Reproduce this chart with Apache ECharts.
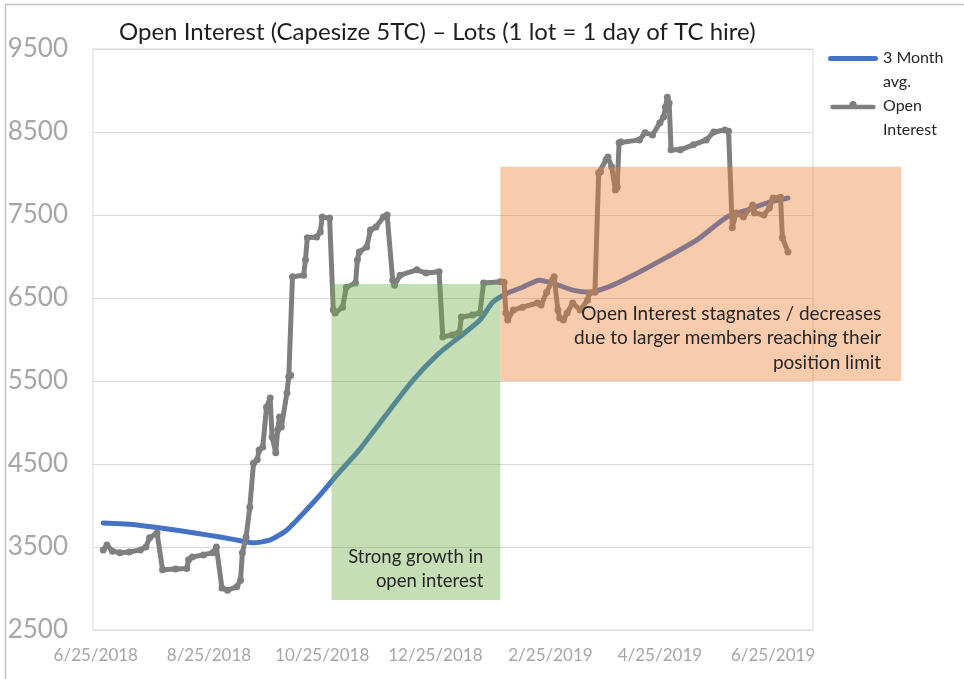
<!DOCTYPE html>
<html>
<head>
<meta charset="utf-8">
<script src="https://cdn.jsdelivr.net/npm/echarts@6/dist/echarts.min.js"></script>
<style>
html, body { margin: 0; padding: 0; background: #fff; }
#container { width: 964px; height: 679px; }
</style>
</head>
<body>
<div id="container"></div>
<script>
// 3 month average of open interest
var avgDates = ['2018-06-29', '2018-07-13', '2018-07-30', '2018-08-20', '2018-08-31', '2018-09-11',
    '2018-09-18', '2018-09-27', '2018-10-06', '2018-10-15', '2018-10-24', '2018-11-02', '2018-11-14',
    '2018-11-28', '2018-12-13', '2018-12-27', '2019-01-07', '2019-01-18', '2019-01-25', '2019-02-02',
    '2019-02-10', '2019-02-19', '2019-02-26', '2019-03-09', '2019-03-18', '2019-03-28', '2019-04-09',
    '2019-04-29', '2019-05-15', '2019-05-31', '2019-06-11', '2019-06-23', '2019-07-03'];
var avgValues = [3790, 3775, 3730, 3660, 3620, 3575, 3550, 3585, 3705, 3910, 4130, 4370, 4670,
    5080, 5510, 5835, 6030, 6235, 6450, 6560, 6630, 6715, 6680, 6595, 6570, 6630, 6755,
    6995, 7200, 7475, 7560, 7655, 7705];

// open interest, lots
var oiDates = ['2018-06-29', '2018-07-01', '2018-07-04', '2018-07-08', '2018-07-13', '2018-07-19',
    '2018-07-22', '2018-07-24', '2018-07-28', '2018-07-31', '2018-08-07', '2018-08-13', '2018-08-14',
    '2018-08-16', '2018-08-22', '2018-08-27', '2018-08-29', '2018-09-01', '2018-09-04', '2018-09-09',
    '2018-09-11', '2018-09-12', '2018-09-14', '2018-09-16', '2018-09-18', '2018-09-20', '2018-09-21',
    '2018-09-23', '2018-09-25', '2018-09-27', '2018-09-28', '2018-09-30', '2018-10-01', '2018-10-02',
    '2018-10-03', '2018-10-06', '2018-10-07', '2018-10-08', '2018-10-09', '2018-10-15', '2018-10-16',
    '2018-10-17', '2018-10-22', '2018-10-24', '2018-10-25', '2018-10-29', '2018-10-31', '2018-11-01',
    '2018-11-05', '2018-11-07', '2018-11-12', '2018-11-13', '2018-11-14', '2018-11-18', '2018-11-20',
    '2018-11-23', '2018-11-27', '2018-11-29', '2018-12-02', '2018-12-03', '2018-12-06', '2018-12-15',
    '2018-12-20', '2018-12-27', '2018-12-29', '2019-01-03', '2019-01-07', '2019-01-08', '2019-01-14',
    '2019-01-18', '2019-01-20', '2019-01-29', '2019-01-31', '2019-02-01', '2019-02-02', '2019-02-05',
    '2019-02-10', '2019-02-18', '2019-02-20', '2019-02-23', '2019-02-26', '2019-02-27', '2019-03-01',
    '2019-03-02', '2019-03-04', '2019-03-06', '2019-03-09', '2019-03-13', '2019-03-17', '2019-03-18',
    '2019-03-21', '2019-03-23', '2019-03-24', '2019-03-27', '2019-03-28', '2019-03-30', '2019-04-01',
    '2019-04-02', '2019-04-03', '2019-04-04', '2019-04-14', '2019-04-17', '2019-04-21', '2019-04-25',
    '2019-04-27', '2019-04-28', '2019-04-29', '2019-04-30', '2019-05-01', '2019-05-06', '2019-05-13',
    '2019-05-20', '2019-05-24', '2019-05-30', '2019-06-01', '2019-06-03', '2019-06-05', '2019-06-09',
    '2019-06-14', '2019-06-15', '2019-06-20', '2019-06-23', '2019-06-25', '2019-06-29', '2019-06-30',
    '2019-07-03'];
var oiValues = [3465, 3525, 3450, 3430, 3440, 3465,
    3500, 3610, 3670, 3225, 3235, 3240, 3345,
    3380, 3405, 3430, 3500, 3005, 2980, 3020,
    3100, 3430, 3620, 3980, 4510, 4550, 4670,
    4705, 5185, 5295, 4825, 4635, 4910, 5065,
    4945, 5355, 5550, 5570, 6755, 6775, 6960,
    7225, 7235, 7295, 7475, 7465, 6355, 6320,
    6390, 6630, 6680, 6960, 7055, 7115, 7320,
    7355, 7475, 7500, 6715, 6655, 6775, 6840,
    6800, 6815, 6030, 6055, 6090, 6270, 6295,
    6320, 6680, 6695, 6690, 6320, 6235, 6355,
    6390, 6440, 6415, 6570, 6715, 6755, 6355,
    6260, 6235, 6320, 6440, 6355, 6475, 6560,
    6570, 8005, 8020, 8165, 8200, 8080, 7800,
    7835, 8370, 8380, 8405, 8490, 8465, 8610,
    8680, 8800, 8920, 8850, 8285, 8285, 8345,
    8405, 8500, 8525, 8510, 7345, 7525, 7475,
    7620, 7525, 7500, 7585, 7705, 7715, 7225,
    7055];

var seriesNames = ['3 Month\navg.', 'Open\nInterest'];
var xTickDates = ['2018-06-25', '2018-08-25', '2018-10-25', '2018-12-25', '2019-02-25', '2019-04-25', '2019-06-25'];

// annotation boxes: [start date, end date, low value, high value]
var growthBox = ['2018-10-30', '2019-01-29', 2860, 6670];
var stagnateBox = ['2019-01-29', '2019-09-02', 5500, 8080];

function toTime(s) {
    var p = s.split('-');
    return new Date(+p[0], p[1] - 1, +p[2]).getTime();
}
function pairs(dates, values) {
    return dates.map(function (d, i) { return [toTime(d), values[i]]; });
}

var dom = document.getElementById('container');
var myChart = echarts.init(dom);
var FONT = 'Lato';

// legend glyphs: plain line, and line with a marker bump (M points fix the box)
var plainIcon = 'path://M0,0 M50,10 M2.5,3 L47.5,3 A2.5,2.5 0 0 1 47.5,8 L2.5,8 A2.5,2.5 0 0 1 2.5,3 Z';
var markerIcon = 'path://M0,0 M50,10 M2.5,3 L21,3 A4,4 0 0 1 29,3 L47.5,3 A2.5,2.5 0 0 1 47.5,8 L2.5,8 A2.5,2.5 0 0 1 2.5,3 Z';

var option = {
    animation: false,
    backgroundColor: '#fff',
    title: {
        text: 'Open Interest (Capesize 5TC) \u2013 Lots (1 lot = 1 day of TC hire)',
        left: 114,
        top: 15,
        textStyle: { fontFamily: FONT, fontSize: 24, fontWeight: 'normal', color: '#1f1f1f' }
    },
    legend: {
        orient: 'vertical',
        left: 828,
        top: 22,
        padding: 0,
        itemWidth: 50,
        itemHeight: 10,
        itemGap: -24,
        formatter: function (name) { return '\n' + name; },
        textStyle: { fontFamily: FONT, fontSize: 16, color: '#262626', lineHeight: 24 },
        data: [
            { name: seriesNames[0], icon: plainIcon },
            { name: seriesNames[1], icon: markerIcon }
        ]
    },
    grid: {
        left: 93,
        right: 151,
        top: 49,
        bottom: 49,
        show: true,
        borderColor: '#d9d9d9',
        borderWidth: 1
    },
    xAxis: {
        type: 'value',
        min: toTime('2018-06-23') + 12 * 3600e3,
        max: toTime('2019-07-16') + 12 * 3600e3,
        axisLine: { lineStyle: { color: '#d9d9d9' } },
        axisTick: { show: false },
        splitLine: { show: false },
        axisLabel: {
            customValues: xTickDates.map(toTime),
            margin: 17,
            fontFamily: FONT,
            fontSize: 17,
            color: '#a6a6a6',
            formatter: function (v) {
                var d = new Date(v);
                return (d.getMonth() + 1) + '/' + d.getDate() + '/' + d.getFullYear();
            }
        }
    },
    yAxis: {
        type: 'value',
        min: 2500,
        max: 9500,
        interval: 1000,
        axisLine: { show: false },
        axisTick: { show: false },
        splitLine: { lineStyle: { color: '#d9d9d9' } },
        axisLabel: {
            margin: 25,
            fontFamily: FONT,
            fontSize: 26,
            color: '#a6a6a6',
            formatter: function (v) { return String(v); }
        }
    },
    series: [{
        name: seriesNames[0],
        type: 'line',
        symbol: 'none',
        smooth: 0.2,
        lineStyle: { color: '#4472c4', width: 5, cap: 'round' },
        itemStyle: { color: '#4472c4' },
        data: pairs(avgDates, avgValues)
    }, {
        name: seriesNames[1],
        type: 'line',
        symbol: 'circle',
        symbolSize: 7,
        showAllSymbol: true,
        lineStyle: { color: '#7f7f7f', width: 5, join: 'round', cap: 'round' },
        itemStyle: { color: '#7f7f7f' },
        data: pairs(oiDates, oiValues)
    }]
};
myChart.setOption(option);

function boxRect(b) {
    var p1 = myChart.convertToPixel({ gridIndex: 0 }, [toTime(b[0]), b[3]]);
    var p2 = myChart.convertToPixel({ gridIndex: 0 }, [toTime(b[1]), b[2]]);
    return { x: p1[0], y: p1[1], width: p2[0] - p1[0], height: p2[1] - p1[1] };
}
var g = boxRect(growthBox);
var s = boxRect(stagnateBox);

myChart.setOption({
    graphic: [{
        type: 'rect', z: 100, silent: true,
        shape: g,
        style: { fill: 'rgba(112,173,71,0.4)' }
    }, {
        type: 'rect', z: 100, silent: true,
        shape: s,
        style: { fill: 'rgba(237,125,49,0.4)' }
    }, {
        type: 'text', z: 101, silent: true,
        style: {
            text: 'Strong growth in\nopen interest',
            x: g.x + g.width - 17, y: g.y + g.height - 7,
            align: 'right', verticalAlign: 'bottom',
            font: '18.5px ' + FONT, lineHeight: 24, fill: '#262626'
        }
    }, {
        type: 'text', z: 101, silent: true,
        style: {
            text: 'Open Interest stagnates / decreases\ndue to larger members reaching their\nposition limit',
            x: s.x + s.width - 20, y: s.y + s.height - 6,
            align: 'right', verticalAlign: 'bottom',
            font: '19px ' + FONT, lineHeight: 24.5, fill: '#262626'
        }
    }, {
        type: 'rect', z: 0, silent: true,
        shape: { x: 5.5, y: 4.5, width: 1000, height: 700 },
        style: { fill: 'none', stroke: '#c4c4c4', lineWidth: 1.5 }
    }]
});
</script>
</body>
</html>
